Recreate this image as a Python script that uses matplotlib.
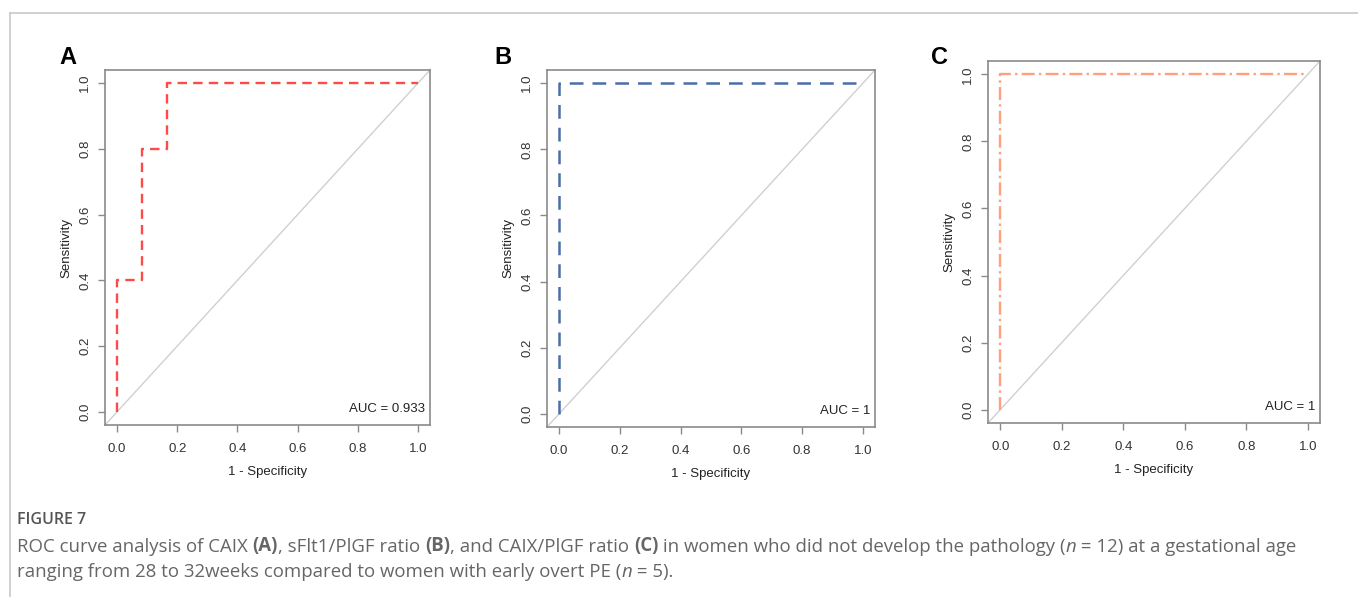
import matplotlib.pyplot as plt
from matplotlib.lines import Line2D

# ROC curve points (1 - specificity, sensitivity)
fpr_a = [0.0, 0.0, 1 / 12, 1 / 12, 2 / 12, 2 / 12, 1.0]
tpr_a = [0.0, 0.4, 0.4, 0.8, 0.8, 1.0, 1.0]
fpr_b = [0.0, 0.0, 1.0]
tpr_b = [0.0, 1.0, 1.0]
fpr_c = [0.0, 0.0, 1.0]
tpr_c = [0.0, 1.0, 1.0]
auc_labels = ['AUC = 0.933', 'AUC = 1', 'AUC = 1']
panel_letters = ['A', 'B', 'C']
ticks = [0.0, 0.2, 0.4, 0.6, 0.8, 1.0]

W, H = 1358, 597
fig = plt.figure(figsize=(W / 100, H / 100), dpi=100)
plt.rcParams['font.family'] = ['Liberation Sans', 'DejaVu Sans']

# frame round the figure panel
fig.add_artist(Line2D([10 / W, 1.0], [1 - 13 / H, 1 - 13 / H], color='#c8c8c8', lw=1.2))
fig.add_artist(Line2D([10 / W, 10 / W], [0.0, 1 - 13 / H], color='#c8c8c8', lw=1.2))


def px_axes(left, top, right, bottom):
    return fig.add_axes([left / W, 1 - bottom / H, (right - left) / W, (bottom - top) / H])


boxes = [(105, 70, 430, 425), (547, 70, 875, 427), (988, 61, 1320, 423)]
curves = [(fpr_a, tpr_a), (fpr_b, tpr_b), (fpr_c, tpr_c)]
styles = [
    dict(color='#ff4a4a', lw=1.7, linestyle=(0, (4, 2.6))),
    dict(color='#4a6ea8', lw=1.8, linestyle=(0, (5.5, 3.6))),
    dict(color='#ff9f80', lw=1.7, linestyle=(0, (5.5, 1.8, 1, 1.8))),
]
letter_pos = [(68, 57), (503, 57), (939, 57)]

for i, box in enumerate(boxes):
    ax = px_axes(*box)
    ax.set_xlim(-0.04, 1.04)
    ax.set_ylim(-0.04, 1.04)
    ax.axline((0, 0), (1, 1), color='#d0d0d0', lw=1.0, zorder=1)
    fpr, tpr = curves[i]
    ax.plot(fpr, tpr, zorder=2, **styles[i])

    for s in ax.spines.values():
        s.set_color('#8a8a8a')
        s.set_linewidth(1.2)
    ax.set_xticks(ticks)
    ax.set_yticks(ticks)
    ax.set_xticklabels([f'{t:.1f}' for t in ticks])
    ax.set_yticklabels([f'{t:.1f}' for t in ticks], rotation=90, va='center')
    ax.tick_params(direction='out', length=5, width=1.0, color='#8a8a8a',
                   labelcolor='#333333', labelsize=9.5)
    ax.tick_params(axis='x', pad=8)
    ax.tick_params(axis='y', pad=5)
    ax.set_xlabel('1 - Specificity', fontsize=9.5, color='#222222', labelpad=8)
    ax.set_ylabel('Sensitivity', fontsize=9.5, color='#222222', labelpad=5)
    ax.text(0.985, 0.045, auc_labels[i], transform=ax.transAxes, ha='right', va='center',
            fontsize=9.5, color='#222222')

    lx, ly = letter_pos[i]
    fig.text(lx / W, 1 - ly / H, panel_letters[i], fontsize=17, fontweight='bold',
             ha='center', va='center')

# caption
cap = fig.add_axes([0, 0, 1, 1])
cap.axis('off')
cap.set_xlim(0, W)
cap.set_ylim(H, 0)

cap_font = ['Open Sans', 'DejaVu Sans']
cap.text(17, 528, 'FIGURE 7', fontsize=11.5, color='#555555', family=cap_font,
         fontweight='semibold', va='bottom', ha='left')

line1 = [('ROC curve analysis of CAIX ', 'normal', 'normal'),
         ('(A)', 'bold', 'normal'),
         (', sFlt1/PlGF ratio ', 'normal', 'normal'),
         ('(B)', 'bold', 'normal'),
         (', and CAIX/PlGF ratio ', 'normal', 'normal'),
         ('(C)', 'bold', 'normal'),
         (' in women who did not develop the pathology (', 'normal', 'normal'),
         ('n', 'normal', 'italic'),
         (' = 12) at a gestational age', 'normal', 'normal')]
line2 = [('ranging from 28 to 32weeks compared to women with early overt PE (', 'normal', 'normal'),
         ('n', 'normal', 'italic'),
         (' = 5).', 'normal', 'normal')]

for y, parts in [(556, line1), (581, line2)]:
    prev = None
    for txt, weight, style in parts:
        kw = dict(fontsize=13.4, color='#666666', family=cap_font, fontweight=weight,
                  fontstyle=style, va='bottom', ha='left')
        if prev is None:
            prev = cap.text(17, y, txt, **kw)
        else:
            prev = cap.annotate(txt, xy=(1, 0), xycoords=prev, **kw)

fig.savefig('out.png', dpi=100)
